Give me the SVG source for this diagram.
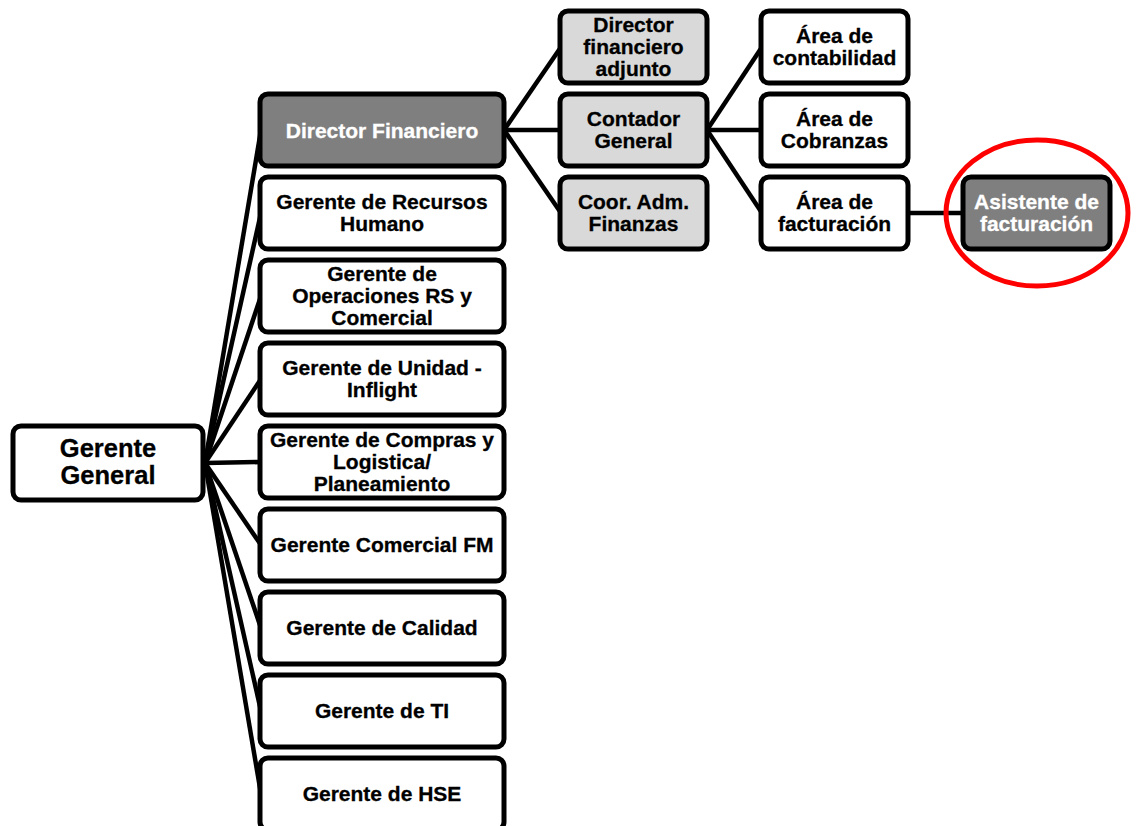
<svg xmlns="http://www.w3.org/2000/svg" width="1139" height="826" viewBox="0 0 1139 826">
<style>
.box{fill:#ffffff;stroke:#000000;stroke-width:5}
.gray{fill:#d9d9d9}
.dark{fill:#7f7f7f}
.t{font-family:"Liberation Sans",Arial,sans-serif;font-weight:bold;font-size:21px;text-anchor:middle;fill:#000000;stroke:#000000;stroke-width:0.3}
.w{fill:#ffffff;stroke:#ffffff}
.big{font-size:25.5px}
.con line{stroke:#000000;stroke-width:4.5}
</style>
<rect width="1139" height="826" fill="#ffffff"/>
<g id="connectors" class="con">
<line x1="205" y1="463" x2="261" y2="130"/>
<line x1="205" y1="463" x2="261" y2="213"/>
<line x1="205" y1="463" x2="261" y2="296"/>
<line x1="205" y1="463" x2="261" y2="379"/>
<line x1="205" y1="463" x2="261" y2="462"/>
<line x1="205" y1="463" x2="261" y2="545"/>
<line x1="205" y1="463" x2="261" y2="628"/>
<line x1="205" y1="463" x2="261" y2="711"/>
<line x1="205" y1="463" x2="261" y2="794"/>
<line x1="504" y1="130" x2="561" y2="47"/>
<line x1="504" y1="130" x2="561" y2="130"/>
<line x1="504" y1="130" x2="561" y2="213"/>
<line x1="707" y1="130" x2="762" y2="47"/>
<line x1="707" y1="130" x2="762" y2="130"/>
<line x1="707" y1="130" x2="762" y2="213"/>
<line x1="908" y1="213" x2="964" y2="213"/>
</g>
<g id="gerente-general"><rect class="box" x="13" y="426" width="190" height="74" rx="8"/><text class="t big" x="108" y="456.5">Gerente<tspan x="108" dy="27.5">General</tspan></text></g>
<g id="director-financiero"><rect class="box dark" x="260" y="94" width="244" height="72" rx="8"/><text class="t w" x="382" y="137.5">Director Financiero</text></g>
<g id="rrhh"><rect class="box" x="260" y="177" width="244" height="72" rx="8"/><text class="t" x="382" y="209">Gerente de Recursos<tspan x="382" dy="22">Humano</tspan></text></g>
<g id="operaciones"><rect class="box" x="260" y="260" width="244" height="72" rx="8"/><text class="t" x="382" y="281">Gerente de<tspan x="382" dy="22">Operaciones RS y</tspan><tspan x="382" dy="22">Comercial</tspan></text></g>
<g id="unidad"><rect class="box" x="260" y="343" width="244" height="72" rx="8"/><text class="t" x="382" y="375">Gerente de Unidad -<tspan x="382" dy="22">Inflight</tspan></text></g>
<g id="compras"><rect class="box" x="260" y="426" width="244" height="72" rx="8"/><text class="t" x="382" y="447">Gerente de Compras y<tspan x="382" dy="22">Logistica/</tspan><tspan x="382" dy="22">Planeamiento</tspan></text></g>
<g id="comercial"><rect class="box" x="260" y="509" width="244" height="72" rx="8"/><text class="t" x="382" y="552">Gerente Comercial FM</text></g>
<g id="calidad"><rect class="box" x="260" y="592" width="244" height="72" rx="8"/><text class="t" x="382" y="635">Gerente de Calidad</text></g>
<g id="ti"><rect class="box" x="260" y="675" width="244" height="72" rx="8"/><text class="t" x="382" y="718">Gerente de TI</text></g>
<g id="hse"><rect class="box" x="260" y="758" width="244" height="72" rx="8"/><text class="t" x="382" y="801">Gerente de HSE</text></g>
<g id="director-adjunto"><rect class="box gray" x="560" y="11" width="147" height="72" rx="8"/><text class="t" x="633.5" y="32">Director<tspan x="633.5" dy="22">financiero</tspan><tspan x="633.5" dy="22">adjunto</tspan></text></g>
<g id="contador"><rect class="box gray" x="560" y="94" width="147" height="72" rx="8"/><text class="t" x="633.5" y="126">Contador<tspan x="633.5" dy="22">General</tspan></text></g>
<g id="coor"><rect class="box gray" x="560" y="177" width="147" height="72" rx="8"/><text class="t" x="633.5" y="209">Coor. Adm.<tspan x="633.5" dy="22">Finanzas</tspan></text></g>
<g id="contabilidad"><rect class="box" x="761" y="11" width="147" height="72" rx="8"/><text class="t" x="834.5" y="43">Área de<tspan x="834.5" dy="22">contabilidad</tspan></text></g>
<g id="cobranzas"><rect class="box" x="761" y="94" width="147" height="72" rx="8"/><text class="t" x="834.5" y="126">Área de<tspan x="834.5" dy="22">Cobranzas</tspan></text></g>
<g id="facturacion"><rect class="box" x="761" y="177" width="147" height="72" rx="8"/><text class="t" x="834.5" y="209">Área de<tspan x="834.5" dy="22">facturación</tspan></text></g>
<g id="asistente"><rect class="box dark" x="963" y="177" width="147" height="72" rx="8"/><text class="t w" x="1036.5" y="209">Asistente de<tspan x="1036.5" dy="22">facturación</tspan></text></g>
<ellipse id="highlight" cx="1037" cy="213" rx="91" ry="73" fill="none" stroke="#ff0000" stroke-width="5"/>
</svg>
